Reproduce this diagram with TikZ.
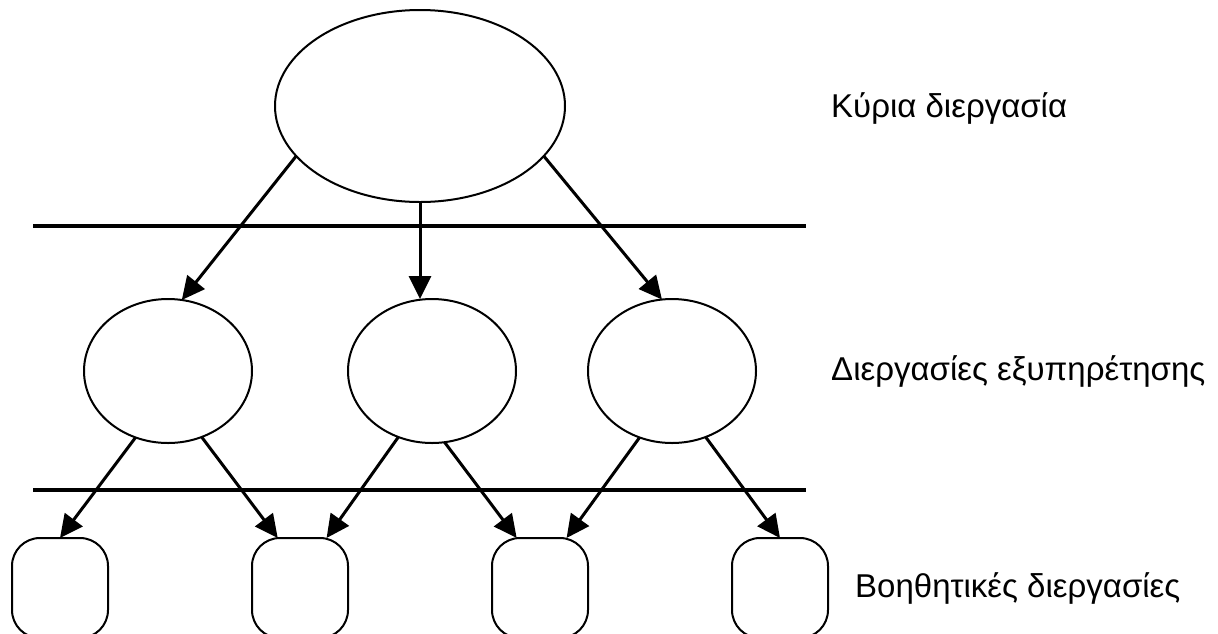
\documentclass[tikz,border=0pt]{standalone}
\usepackage{fontspec}
\setmainfont{Liberation Sans}
\usetikzlibrary{shapes.geometric,arrows.meta}
\begin{document}
\begin{tikzpicture}[x=1pt,y=-1pt,
  proc/.style={draw,ellipse,line width=2pt,inner sep=0pt,outer sep=0pt},
  aux/.style={draw,rectangle,rounded corners=28pt,line width=2pt,minimum width=96pt,minimum height=100pt,inner sep=0pt,outer sep=0pt},
  arr/.style={line width=3pt,-{Triangle[length=23pt,width=22pt]}},
  sep/.style={line width=4.5pt},
  lbl/.style={anchor=base west,inner sep=0pt,font=\fontsize{33}{38}\selectfont}]
\useasboundingbox (0,0) rectangle (1218,633);
% separators
\draw[sep] (33,226) -- (806,226);
\draw[sep] (33,490) -- (806,490);
% nodes
\node[proc,minimum width=290pt,minimum height=192pt] (T) at (420,106) {};
\node[proc,minimum width=168pt,minimum height=144pt] (L) at (168,371) {};
\node[proc,minimum width=168pt,minimum height=144pt] (M) at (432,371) {};
\node[proc,minimum width=168pt,minimum height=144pt] (R) at (672,371) {};
\node[aux] (B1) at (60,588) {};
\node[aux] (B2) at (300,588) {};
\node[aux] (B3) at (540,588) {};
\node[aux] (B4) at (780,588) {};
% labels
\node[lbl] (t1) at (831,117) {Κύρια διεργασία};
\node[lbl] (t2) at (831,380) {Διεργασίες εξυπηρέτησης};
\node[lbl] (t3) at (855,597) {Βοηθητικές διεργασίες};
% arrows
\draw[arr] (T.202) -- (L.79);
\draw[arr] (T.south) -- (T.south |- M.north);
\draw[arr] (T.338) -- (R.98);
\draw[arr] (L.244) -- (B1.north);
\draw[arr] (L.297) -- (B2.114);
\draw[arr] (M.243) -- (B2.62);
\draw[arr] (M.280) -- (B3.115);
\draw[arr] (R.244) -- (B3.62);
\draw[arr] (R.297) -- (B4.north);
\end{tikzpicture}
\end{document}
